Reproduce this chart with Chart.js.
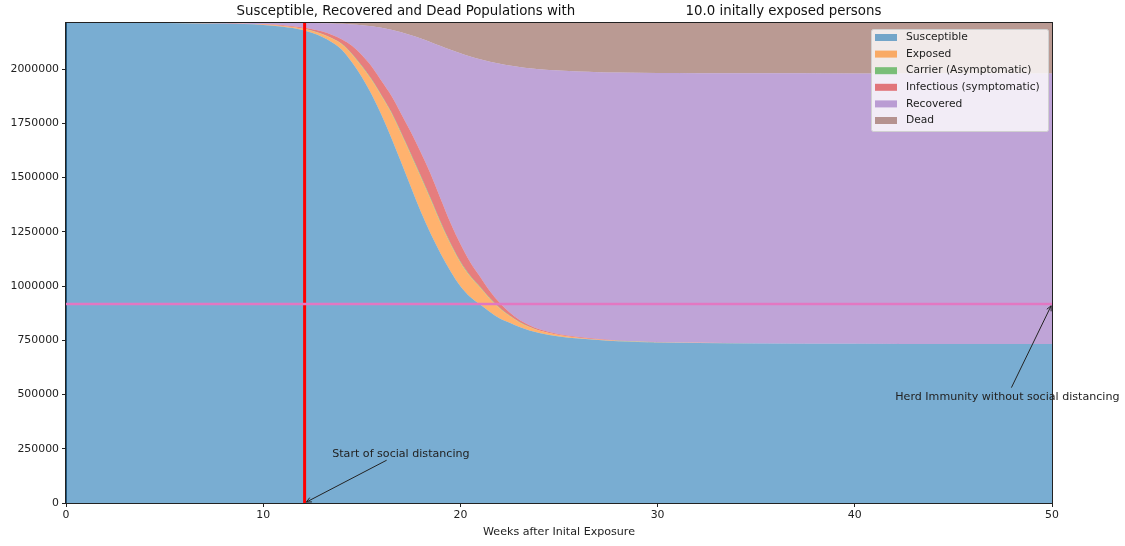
<!DOCTYPE html>
<html>
<head>
<meta charset="utf-8">
<title>Susceptible, Recovered and Dead Populations</title>
<script src="https://cdn.jsdelivr.net/npm/chart.js@4.4.1/dist/chart.umd.min.js"></script>
<style>
  html, body { margin: 0; padding: 0; background: #fff; }
  #wrap { width: 1125px; height: 546px; }
</style>
</head>
<body>
<div id="wrap"><canvas id="seirChart" width="1125" height="546"></canvas></div>
<script>
// weeks after initial exposure (sample points)
const weeks = [0, 2, 4, 6, 8, 9, 10, 11, 12, 13, 13.5,
  14, 14.5, 15, 15.5, 16, 16.5, 17, 17.5, 18, 18.5, 19, 19.5, 20, 20.5, 21, 21.5, 22,
  22.5, 23, 23.5, 24, 25, 26, 27, 28, 30, 32, 35, 40, 45, 50];

const susceptible = [2211990, 2211955, 2211820, 2211300, 2209300, 2207000, 2203000, 2195000, 2179700, 2147500, 2122100,
  2087600, 2030900, 1963100, 1882500, 1788000, 1682000, 1569100, 1453900, 1341000, 1239600, 1148900, 1068200, 999100, 949300, 914700, 880200, 850200,
  830400, 811100, 794900, 783400, 767300, 757600, 751200, 745600, 740100, 737800, 735500, 733600, 732700, 732700];
const exposed = [10, 20, 50, 160, 550, 1000, 1800, 3300, 6000, 12900, 18000,
  25300, 36900, 48400, 66800, 87600, 115200, 132300, 147500, 159000, 156700, 140600, 124400, 109700, 94500, 78300, 59900, 46100,
  31300, 21200, 15700, 11100, 6500, 4100, 2300, 1400, 460, 140, 20, 1, 0, 0];
const carrier = [0, 2, 6, 20, 70, 130, 230, 400, 700, 1400, 1600,
  2100, 2500, 3000, 3500, 3900, 4400, 4800, 5300, 5500, 5500, 5300, 4800, 4400, 3900, 3500, 3000, 2500,
  2100, 1600, 1300, 1000, 600, 370, 230, 140, 50, 10, 2, 0, 0, 0];
const infectious = [0, 8, 35, 130, 500, 950, 1800, 3500, 4800, 11100, 15000,
  21000, 36600, 50000, 58800, 65000, 75000, 87000, 100700, 108300, 112000, 106200, 92900, 80000, 62000, 46000, 33000, 23000,
  14100, 9400, 7000, 5400, 3500, 2900, 2100, 1700, 880, 320, 70, 5, 0, 0];
const recovered = [0, 15, 89, 390, 1580, 2915, 5150, 9720, 20300, 37700, 53000,
  72300, 98600, 137400, 185200, 245400, 304100, 375900, 448400, 526800, 609700, 705000, 798200, 879200, 947900, 1002200, 1057600, 1102200,
  1138200, 1165900, 1184800, 1198200, 1214700, 1223030, 1229470, 1234560, 1240110, 1242430, 1244608, 1246094, 1247000, 1247000];
const dead = [0, 0, 0, 0, 0, 5, 20, 80, 500, 1400, 2300,
  3700, 6500, 10100, 15200, 22100, 31300, 42900, 56200, 71400, 88500, 106000, 123500, 139600, 154400, 167300, 178300, 188000,
  195900, 202800, 208300, 212900, 219400, 224000, 226700, 228600, 230400, 231300, 231800, 232300, 232300, 232300];

const seriesLabels = ["Susceptible", "Exposed", "Carrier (Asymptomatic)", "Infectious (symptomatic)", "Recovered", "Dead"];
const totalPopulation = 2212000;
const socialDistancingWeek = 12.1;
const herdImmunityLevel = 917000;

const xTicks = [0, 10, 20, 30, 40, 50];
const yTicks = [0, 250000, 500000, 750000, 1000000, 1250000, 1500000, 1750000, 2000000];

const titleText = "Susceptible, Recovered and Dead Populations with                          10.0 initally exposed persons";
const xLabel = "Weeks after Inital Exposure";
const notes = [
  { text: "Start of social distancing", at: [13.5, 213000], to: [socialDistancingWeek, 0] },
  { text: "Herd Immunity without social distancing", at: [42.05, 475000], to: [50, herdImmunityLevel] },
];

const FONT = "'DejaVu Sans', 'Liberation Sans', sans-serif";
const colors = [
  "rgba(31, 119, 180, 0.6)",
  "rgba(255, 127, 14, 0.6)",
  "rgba(44, 160, 44, 0.6)",
  "rgba(214, 39, 40, 0.6)",
  "rgba(148, 103, 189, 0.6)",
  "rgba(140, 86, 75, 0.6)",
];

function toPoints(values) {
  return weeks.map((w, i) => ({ x: w, y: values[i] }));
}

const seriesValues = [susceptible, exposed, carrier, infectious, recovered, dead];
const datasets = seriesValues.map((values, i) => ({
  label: seriesLabels[i],
  data: toPoints(values),
  backgroundColor: colors[i],
  borderColor: "rgba(0,0,0,0)",
  borderWidth: 0,
  pointRadius: 0,
  fill: i === 0 ? "origin" : "-1",
  cubicInterpolationMode: "monotone",
}));

function drawArrow(ctx, x0, y0, x1, y1) {
  const ang = Math.atan2(y1 - y0, x1 - x0);
  const headLen = 5;
  const headW = 2.4;
  ctx.beginPath();
  ctx.moveTo(x0, y0);
  ctx.lineTo(x1, y1);
  ctx.stroke();
  const bx = x1 - headLen * Math.cos(ang);
  const by = y1 - headLen * Math.sin(ang);
  ctx.beginPath();
  ctx.moveTo(bx + headW * Math.sin(ang), by - headW * Math.cos(ang));
  ctx.lineTo(x1, y1);
  ctx.lineTo(bx - headW * Math.sin(ang), by + headW * Math.cos(ang));
  ctx.stroke();
}

const overlay = {
  id: "overlay",
  afterDatasetsDraw(chart) {
    const { ctx, chartArea: area, scales } = chart;
    const xs = scales.x;
    const ys = scales.y;
    ctx.save();

    // reference lines
    const vx = xs.getPixelForValue(socialDistancingWeek);
    ctx.strokeStyle = "#ff0000";
    ctx.lineWidth = 3;
    ctx.beginPath();
    ctx.moveTo(vx, area.top);
    ctx.lineTo(vx, area.bottom);
    ctx.stroke();

    const hy = ys.getPixelForValue(herdImmunityLevel);
    ctx.strokeStyle = "#e377c2";
    ctx.lineWidth = 2.5;
    ctx.beginPath();
    ctx.moveTo(area.left, hy);
    ctx.lineTo(area.right, hy);
    ctx.stroke();

    // frame
    ctx.strokeStyle = "#222";
    ctx.lineWidth = 1;
    ctx.strokeRect(Math.round(area.left) - 0.5, Math.round(area.top) - 0.5,
      Math.round(area.right - area.left) + 1, Math.round(area.bottom - area.top) + 1);

    // annotations
    ctx.font = "11.1px " + FONT;
    ctx.fillStyle = "#222";
    ctx.textAlign = "left";
    ctx.textBaseline = "alphabetic";
    notes.forEach((n) => {
      const tx = xs.getPixelForValue(n.at[0]);
      const ty = ys.getPixelForValue(n.at[1]);
      ctx.fillText(n.text, tx, ty);
      const w = ctx.measureText(n.text).width;
      const top = ty - 10.5;
      const bottom = ty + 2.5;
      const cx = tx + w / 2;
      const cy = (top + bottom) / 2;
      const px = xs.getPixelForValue(n.to[0]);
      const py = ys.getPixelForValue(n.to[1]);
      const dx = px - cx;
      const dy = py - cy;
      const t = Math.min(Math.abs((w / 2) / dx), Math.abs(((bottom - top) / 2) / dy));
      const len = Math.hypot(dx, dy);
      const sx = cx + dx * t + (dx / len) * 2;
      const sy = cy + dy * t + (dy / len) * 2;
      const ex = px - (dx / len) * 2;
      const ey = py - (dy / len) * 2;
      ctx.strokeStyle = "#222";
      ctx.lineWidth = 1;
      drawArrow(ctx, sx, sy, ex, ey);
    });

    // legend
    const lx = 871, ly = 29, lw = 177, lh = 102;
    ctx.font = "10.7px " + FONT;
    ctx.fillStyle = "rgba(255,255,255,0.8)";
    ctx.strokeStyle = "#d0d0d0";
    ctx.lineWidth = 1;
    ctx.beginPath();
    ctx.roundRect(lx + 0.5, ly + 0.5, lw, lh, 2);
    ctx.fill();
    ctx.stroke();
    ctx.textBaseline = "middle";
    seriesLabels.forEach((label, i) => {
      const rowY = 37.5 + i * 16.6;
      ctx.fillStyle = colors[i];
      ctx.fillRect(875, rowY - 3.5, 22, 7);
      ctx.fillStyle = "#222";
      ctx.fillText(label, 906, rowY);
    });

    ctx.restore();
  },
  afterDraw(chart) {
    const { ctx, chartArea: area } = chart;
    ctx.save();
    ctx.fillStyle = "#111";
    ctx.textAlign = "center";
    ctx.textBaseline = "middle";
    ctx.font = "13.35px " + FONT;
    ctx.fillText(titleText, (area.left + area.right) / 2, 12);
    ctx.font = "11.1px " + FONT;
    ctx.fillStyle = "#222";
    ctx.fillText(xLabel, (area.left + area.right) / 2, 532);
    ctx.restore();
  },
};

function setTicks(list) {
  return (axis) => {
    axis.ticks = list.map((v) => ({ value: v }));
  };
}

new Chart(document.getElementById("seirChart"), {
  type: "line",
  data: { datasets },
  plugins: [overlay],
  options: {
    responsive: false,
    animation: false,
    events: [],
    layout: { padding: { top: 23, right: 73, left: 0, bottom: 0 } },
    plugins: {
      legend: { display: false },
      title: { display: false },
      tooltip: { enabled: false },
    },
    scales: {
      x: {
        type: "linear",
        min: 0,
        max: 50,
        afterBuildTicks: setTicks(xTicks),
        afterFit: (s) => { s.height = 43; },
        grid: { drawOnChartArea: false, drawTicks: true, tickLength: 4, color: "#222" },
        border: { display: true, color: "#222" },
        ticks: { color: "#222", padding: 2, maxRotation: 0, font: { family: FONT, size: 10.9 }, callback: (v) => String(v) },
      },
      y: {
        stacked: true,
        min: 0,
        max: totalPopulation,
        afterBuildTicks: setTicks(yTicks),
        afterFit: (s) => { s.width = 66; },
        grid: { drawOnChartArea: false, drawTicks: true, tickLength: 4, color: "#222" },
        border: { display: true, color: "#222" },
        ticks: { color: "#222", padding: 3, font: { family: FONT, size: 10.9 }, callback: (v) => String(v) },
      },
    },
  },
});
</script>
</body>
</html>
